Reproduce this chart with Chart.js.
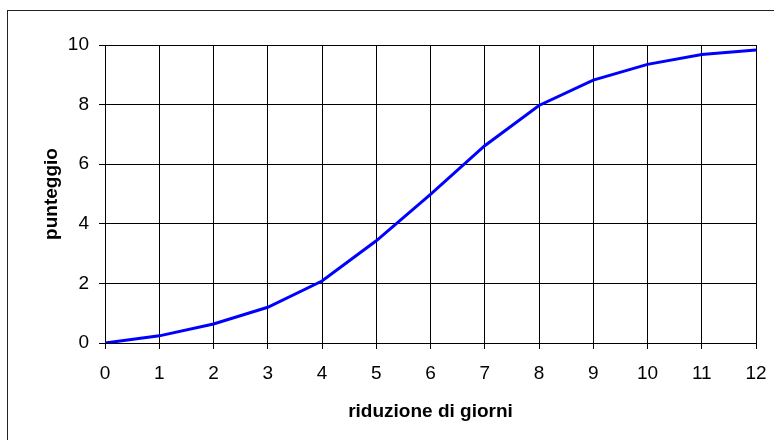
<!DOCTYPE html>
<html>
<head>
<meta charset="utf-8">
<script src="https://cdn.jsdelivr.net/npm/chart.js@4/dist/chart.umd.min.js"></script>
<style>
    body { margin: 0; background: #fff; }
    #wrap { width: 774px; height: 440px; }
</style>
</head>
<body>
<div id="wrap"><canvas id="myChart" width="774" height="440"></canvas></div>
<script>
// riduzione di giorni (x) vs punteggio (y)
const giorni = [0, 1, 2, 3, 4, 5, 6, 7, 8, 9, 10, 11, 12];
const punteggio = [0, 0.24, 0.64, 1.2, 2.08, 3.43, 4.99, 6.62, 7.97, 8.82, 9.35, 9.68, 9.83];

const xTitle = 'riduzione di giorni';
const yTitle = 'punteggio';

// outer frame of the chart object (top/left edges visible, the rest runs off the picture)
const outerFrame = {
    id: 'outerFrame',
    beforeDraw(chart) {
        const c = chart.ctx;
        c.save();
        c.fillStyle = '#fff';
        c.fillRect(0, 0, chart.width, chart.height);
        c.strokeStyle = '#222';
        c.lineWidth = 1;
        c.strokeRect(7.5, 10.5, chart.width + 20, chart.height + 20);
        c.restore();
    }
};

function InitializeChart() {
    const ctx = document.getElementById('myChart').getContext('2d');
    return new Chart(ctx, {
        type: 'line',
        data: {
            datasets: [{
                label: yTitle,
                data: giorni.map((g, i) => ({ x: g, y: punteggio[i] })),
                borderColor: '#0000ff',
                borderWidth: 3,
                pointRadius: 0,
                tension: 0,
                fill: false
            }]
        },
        options: {
            responsive: false,
            animation: false,
            layout: {
                padding: { top: 45, right: 18, left: 0, bottom: 0 }
            },
            plugins: {
                legend: { display: false },
                tooltip: { enabled: false }
            },
            scales: {
                x: {
                    type: 'linear',
                    min: 0,
                    max: 12,
                    afterFit(scale) {
                        scale.height = 97;
                        scale.paddingLeft = 0;
                        scale.paddingRight = 0;
                    },
                    ticks: {
                        stepSize: 1,
                        color: '#000',
                        padding: 13,
                        maxRotation: 0,
                        font: { family: "'Liberation Sans', Arial, sans-serif", size: 19 }
                    },
                    grid: { color: '#000', lineWidth: 1, tickLength: 6 },
                    border: { color: '#000', width: 1 },
                    title: {
                        display: true,
                        text: xTitle,
                        color: '#000',
                        padding: { top: 17, bottom: 17 },
                        font: { family: "'Liberation Sans', Arial, sans-serif", size: 19, weight: 'bold' }
                    }
                },
                y: {
                    min: 0,
                    max: 10,
                    afterFit(scale) { scale.width = 105; },
                    ticks: {
                        stepSize: 2,
                        color: '#000',
                        padding: 10,
                        font: { family: "'Liberation Sans', Arial, sans-serif", size: 19 }
                    },
                    grid: { color: '#000', lineWidth: 1, tickLength: 6 },
                    border: { color: '#000', width: 1 },
                    title: {
                        display: true,
                        text: yTitle,
                        color: '#000',
                        padding: { top: 40, bottom: 0 },
                        font: { family: "'Liberation Sans', Arial, sans-serif", size: 19, weight: 'bold' }
                    }
                }
            }
        },
        plugins: [outerFrame]
    });
}

InitializeChart();
</script>
</body>
</html>
